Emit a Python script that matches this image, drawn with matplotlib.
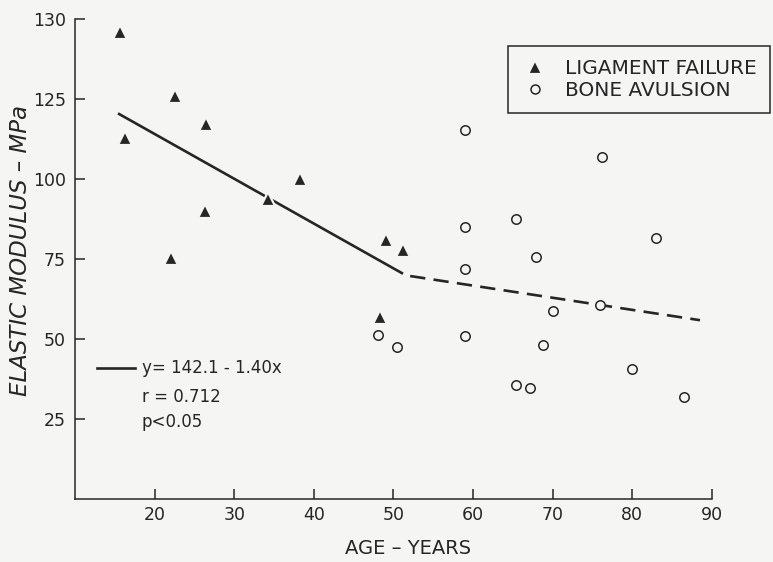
import numpy as np
import matplotlib
matplotlib.use('Agg')
import matplotlib.pyplot as plt

# values
lig_age = [15.7, 22.6, 16.3, 26.4, 38.3, 34.3, 26.3, 22.1, 49.1, 51.2, 48.3]
lig_mod = [146.0, 125.9, 112.7, 117.1, 100.1, 93.7, 90.0, 75.4, 80.9, 77.8, 57.0]

bone_age = [59.0, 76.2, 65.4, 59.0, 83.0, 67.9, 59.0, 76.0, 70.0,
            48.0, 50.4, 59.0, 68.8, 80.0, 65.4, 67.1, 86.5]
bone_mod = [115.3, 106.8, 87.4, 84.9, 81.7, 75.7, 71.8, 60.6, 58.7,
            51.3, 47.4, 50.9, 48.3, 40.8, 35.6, 34.8, 31.8]

# regression for ligament failures, y = 142.1 - 1.40x
fit_intercept = 142.1
fit_slope = -1.40
fit_range = [15.4, 51.2]

# dashed trend through bone avulsions
dash_age = [52.1, 88.5]
dash_mod = [69.7, 55.9]

xticks = [20, 30, 40, 50, 60, 70, 80, 90]
yticks = [25, 50, 75, 100, 125, 150]
ytick_labels = ['25', '50', '75', '100', '125', '130']

bg = '#f5f5f3'
ink = '#262626'

plt.rcParams['lines.scale_dashes'] = False

fig = plt.figure(figsize=(7.73, 5.62), dpi=100, facecolor=bg)
ax = fig.add_axes([0.097, 0.112, 0.824, 0.854], facecolor=bg)

fx = np.array(fit_range)
ax.plot(fx, fit_intercept + fit_slope * fx, color=ink, lw=1.9, zorder=2,
        solid_capstyle='butt')
ax.plot(dash_age, dash_mod, color=ink, lw=1.9, dashes=(11, 6), zorder=2)

ax.plot(lig_age, lig_mod, ls='none', marker='^', ms=10, mfc=ink,
        mec=bg, mew=1.6, zorder=3, label='LIGAMENT FAILURE')
ax.plot(bone_age, bone_mod, ls='none', marker='o', ms=6.8, mfc=bg,
        mec=ink, mew=1.1, zorder=3, label='BONE AVULSION')

ax.set_xlim(10, 90)
ax.set_ylim(0, 150)
for s in ['top', 'right']:
    ax.spines[s].set_visible(False)
for s in ['left', 'bottom']:
    ax.spines[s].set_color(ink)
    ax.spines[s].set_linewidth(1.1)

ax.set_xticks(xticks)
ax.set_yticks(yticks)
ax.set_yticklabels(ytick_labels)
ax.tick_params(direction='in', length=7, width=1.1, color=ink,
               labelcolor=ink, labelsize=12.5)
ax.tick_params(axis='x', pad=5)
ax.tick_params(axis='y', pad=6.5)

ax.text(0.523, -0.104, 'AGE \u2013 YEARS', transform=ax.transAxes,
        ha='center', va='center', fontsize=14, color=ink)
ax.text(-0.086, 0.517, 'ELASTIC MODULUS \u2013 MPa', transform=ax.transAxes,
        ha='center', va='center', rotation=90, fontsize=16.5,
        style='italic', color=ink)

# fit annotation
ax.plot([0.034, 0.094], [0.2735, 0.2735], transform=ax.transAxes,
        color=ink, lw=1.9, clip_on=False)
for yy, txt in zip([0.2735, 0.213, 0.161],
                   ['y= 142.1 - 1.40x', 'r = 0.712', 'p<0.05']):
    ax.text(0.105, yy, txt, transform=ax.transAxes, ha='left',
            va='center', fontsize=12, color=ink)

leg = ax.legend(loc='upper right', bbox_to_anchor=(1.091, 0.944),
                borderaxespad=0, fancybox=False, framealpha=1,
                facecolor=bg, edgecolor=ink, prop={'size': 14.5},
                borderpad=0.66, handletextpad=0.85, labelspacing=0.12,
                handlelength=1.3, markerscale=0.95)
leg.get_frame().set_linewidth(1.1)
for t in leg.get_texts():
    t.set_color(ink)

fig.savefig('out.png', dpi=100, facecolor=bg)
